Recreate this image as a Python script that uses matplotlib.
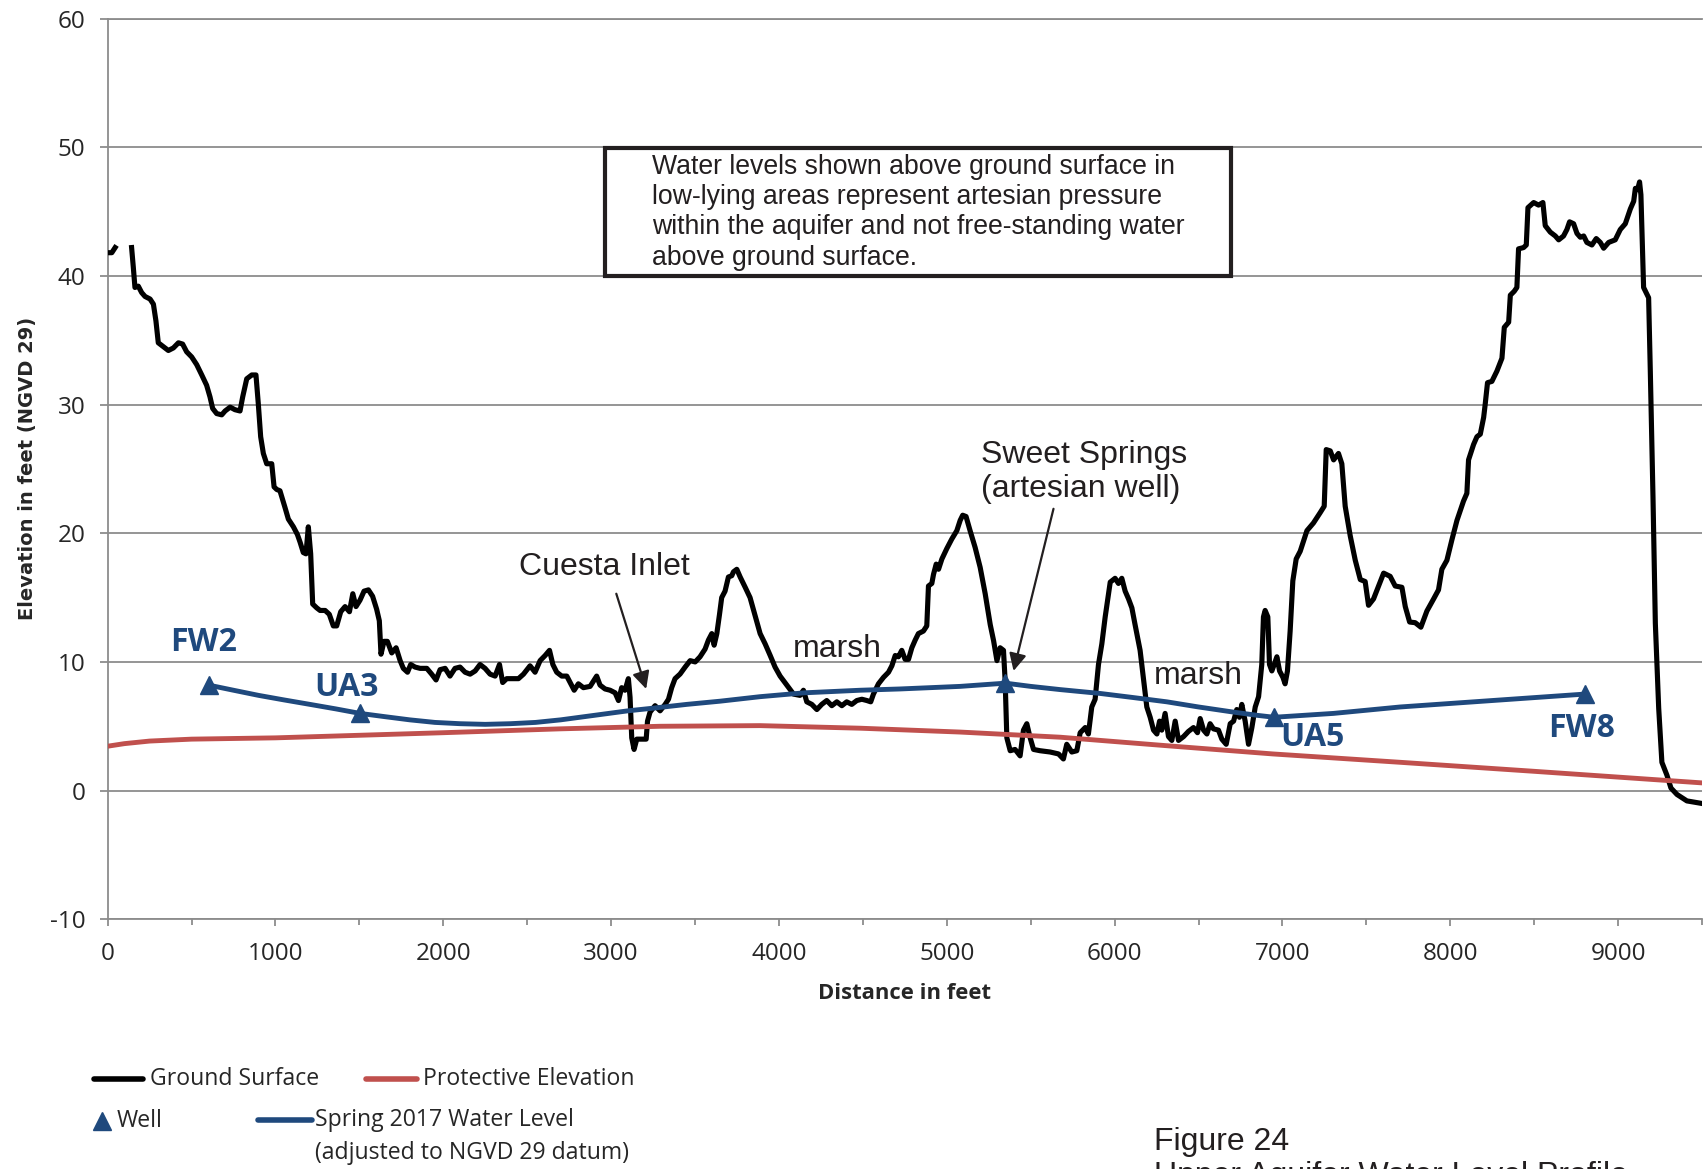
import numpy as np
import matplotlib
matplotlib.use('Agg')
import matplotlib.pyplot as plt
from matplotlib.patches import Rectangle
from matplotlib.lines import Line2D

plt.rcParams['font.family'] = ['Open Sans', 'DejaVu Sans']
plt.rcParams['axes.unicode_minus'] = False

# ground surface profile (feet along section, elevation ft NGVD 29); nan = gap in survey
ground_x = [5, 25, 45, 90,
            143, 153, 163, 183, 203, 223, 253, 273, 288, 302, 332, 362, 392, 422, 447, 471,
            501, 531, 561, 590, 610, 626, 650, 680, 700, 730, 759, 789, 805, 829, 859, 884,
            898, 912, 928, 948, 978, 992, 1008, 1027, 1057, 1077, 1107, 1131, 1147, 1166, 1182,
            1196, 1210, 1222, 1246, 1266, 1296, 1321, 1345, 1365, 1389, 1415, 1441, 1461, 1480,
            1504, 1528, 1554, 1579, 1603, 1619, 1629, 1647, 1667, 1693, 1719, 1743, 1762, 1787,
            1806, 1832, 1862, 1902, 1931, 1957, 1981, 2011, 2040, 2070, 2100, 2130, 2160, 2190,
            2219, 2249, 2279, 2309, 2335, 2354, 2378, 2418, 2448, 2478, 2517, 2547, 2577, 2607,
            2633, 2653, 2676, 2706, 2736, 2756, 2780, 2805, 2835, 2875, 2914, 2934, 2964, 2994,
            3024, 3044, 3063, 3083, 3103, 3113, 3123, 3137, 3153, 3183, 3209, 3217, 3232, 3262,
            3292, 3322, 3342, 3361, 3381, 3411, 3441, 3471, 3501, 3530, 3560, 3580, 3600, 3614,
            3630, 3646, 3659, 3679, 3699, 3719, 3729, 3749, 3769, 3799, 3828, 3858, 3888, 3918,
            3948, 3977, 4007, 4047, 4087, 4126, 4146, 4166, 4196, 4226, 4255, 4285, 4315, 4345,
            4375, 4404, 4434, 4464, 4494, 4524, 4547, 4563, 4593, 4623, 4653, 4673, 4693, 4712,
            4732, 4752, 4772, 4792, 4812, 4831, 4861, 4881, 4891, 4911, 4921, 4937, 4951, 4971,
            5000, 5030, 5060, 5080, 5095, 5115, 5139, 5169, 5199, 5229, 5259, 5279, 5299, 5318,
            5338, 5348, 5358, 5378, 5407, 5437, 5457, 5477, 5497, 5517, 5556, 5616, 5666, 5695,
            5715, 5745, 5775, 5795, 5825, 5844, 5864, 5884, 5904, 5924, 5944, 5974, 6003, 6023,
            6043, 6063, 6083, 6103, 6122, 6152, 6176, 6192, 6212, 6232, 6252, 6268, 6281, 6301,
            6321, 6341, 6361, 6381, 6411, 6440, 6470, 6494, 6510, 6530, 6550, 6569, 6589, 6619,
            6639, 6665, 6689, 6709, 6728, 6744, 6758, 6778, 6798, 6818, 6838, 6858, 6877, 6887,
            6897, 6913, 6923, 6937, 6951, 6967, 6983, 7003, 7016, 7030, 7046, 7062, 7082, 7106,
            7146, 7185, 7225, 7249, 7261, 7285, 7305, 7334, 7354, 7374, 7404, 7434, 7464, 7493,
            7513, 7543, 7573, 7603, 7642, 7672, 7712, 7732, 7758, 7791, 7825, 7861, 7901, 7930,
            7950, 7980, 8010, 8040, 8079, 8099, 8109, 8139, 8159, 8179, 8199, 8208, 8222, 8248,
            8278, 8308, 8322, 8348, 8358, 8381, 8397, 8407, 8437, 8453, 8463, 8497, 8526, 8552,
            8566, 8596, 8626, 8646, 8675, 8695, 8711, 8735, 8755, 8775, 8795, 8814, 8844, 8870,
            8894, 8914, 8944, 8983, 9013, 9043, 9073, 9093, 9103, 9116, 9128, 9136, 9152, 9182,
            9192, 9208, 9222, 9242, 9261, 9291, 9315, 9351, 9410, 9500]
ground_y = [41.8, 41.8, 42.2, np.nan,
            42.2, 40.7, 39.1, 39.2, 38.7, 38.4, 38.2, 37.8, 36.5, 34.8, 34.5, 34.2, 34.4, 34.8, 34.7, 34.1,
            33.7, 33.1, 32.3, 31.5, 30.6, 29.7, 29.3, 29.2, 29.5, 29.8, 29.6, 29.5, 30.6, 32.0, 32.3, 32.3,
            30.05, 27.5, 26.2, 25.4, 25.4, 23.6, 23.4, 23.3, 22.0, 21.1, 20.5, 19.9, 19.3, 18.5, 18.4,
            20.5, 18.4, 14.5, 14.2, 14.0, 14.0, 13.7, 12.8, 12.8, 13.9, 14.3, 13.9, 15.3, 14.3,
            14.8, 15.5, 15.6, 15.1, 14.1, 13.2, 10.6, 11.6, 11.6, 10.7, 11.1, 10.1, 9.5, 9.2,
            9.8, 9.6, 9.5, 9.5, 9.05, 8.6, 9.4, 9.5, 8.9, 9.5, 9.6, 9.2, 9.05, 9.3,
            9.8, 9.5, 9.05, 8.9, 9.8, 8.4, 8.7, 8.7, 8.7, 9.05, 9.7, 9.2, 10.1, 10.5,
            10.9, 9.8, 9.2, 8.9, 8.9, 8.4, 7.8, 8.3, 8.0, 8.1, 8.9, 8.2, 7.9, 7.8,
            7.6, 7.0, 8.0, 7.8, 8.7, 7.25, 4.1, 3.2, 4.0, 4.0, 4.0, 5.4, 6.1, 6.6,
            6.2, 6.7, 7.1, 8.0, 8.7, 9.06, 9.6, 10.1, 10.0, 10.4, 11.0, 11.7, 12.2, 11.3,
            12.2, 13.7, 15.0, 15.5, 16.6, 16.7, 17.0, 17.2, 16.6, 15.8, 15.0, 13.6, 12.2, 11.4,
            10.5, 9.6, 8.9, 8.2, 7.5, 7.4, 7.8, 6.9, 6.7, 6.3, 6.7, 7.0, 6.6, 6.9,
            6.6, 6.9, 6.7, 7.0, 7.1, 7.0, 6.9, 7.5, 8.3, 8.8, 9.2, 9.7, 10.5, 10.4,
            10.9, 10.2, 10.2, 11.1, 11.7, 12.2, 12.4, 12.8, 15.9, 16.1, 16.8, 17.6, 17.2, 18.0,
            18.8, 19.55, 20.2, 21.0, 21.4, 21.3, 20.2, 18.9, 17.35, 15.3, 12.9, 11.65, 10.1, 11.1,
            10.9, 8.5, 4.1, 3.1, 3.2, 2.7, 4.7, 5.2, 4.1, 3.2, 3.1, 3.0, 2.85, 2.46,
            3.6, 3.0, 3.1, 4.5, 4.9, 4.4, 6.5, 7.1, 9.8, 11.4, 13.5, 16.2, 16.5, 16.1,
            16.5, 15.5, 14.9, 14.2, 12.9, 10.9, 8.3, 6.5, 5.7, 4.7, 4.4, 5.4, 4.7, 6.0,
            4.2, 3.9, 5.4, 3.9, 4.2, 4.6, 4.9, 4.5, 5.6, 4.7, 4.4, 5.2, 4.8, 4.7,
            4.0, 3.6, 5.2, 5.4, 6.3, 5.7, 6.7, 5.4, 3.6, 4.9, 6.5, 7.3, 9.8, 13.5,
            14.0, 13.5, 9.8, 9.3, 9.8, 10.4, 9.3, 8.8, 8.3, 9.3, 12.4, 16.3, 18.0, 18.6,
            20.2, 20.8, 21.6, 22.1, 26.5, 26.4, 25.7, 26.2, 25.4, 22.1, 19.8, 17.9, 16.4, 16.25,
            14.4, 14.9, 15.9, 16.9, 16.65, 15.9, 15.8, 14.3, 13.1, 13.05, 12.7, 13.96, 14.9, 15.6,
            17.2, 17.9, 19.5, 21.0, 22.5, 23.1, 25.7, 26.9, 27.5, 27.7, 29.0, 30.0, 31.7, 31.8,
            32.6, 33.6, 36.0, 36.4, 38.5, 38.8, 39.1, 42.1, 42.2, 42.4, 45.3, 45.7, 45.5, 45.7,
            43.9, 43.4, 43.1, 42.8, 43.1, 43.6, 44.2, 44.05, 43.3, 43.0, 43.1, 42.6, 42.4, 42.9,
            42.6, 42.15, 42.6, 42.8, 43.6, 44.05, 45.2, 45.8, 46.8, 46.7, 47.3, 46.3, 39.1, 38.3,
            32.6, 22.8, 13.0, 6.4, 2.2, 1.2, 0.2, -0.3, -0.8, -1.0]

# protective elevation
prot_x = [0, 100, 250, 500, 1000, 1500, 2000, 2696, 3292, 3888, 4484, 5080, 5676, 6300, 6943, 7702, 8500, 9500]
prot_y = [3.45, 3.65, 3.85, 4.0, 4.1, 4.3, 4.5, 4.8, 5.0, 5.05, 4.85, 4.55, 4.15, 3.5, 2.85, 2.2, 1.5, 0.6]

# spring 2017 water level
wl_x = [602, 750, 900, 1050, 1206, 1360, 1504, 1650, 1800, 1950, 2100, 2250, 2400, 2550,
        2700, 2900, 3100, 3245, 3450, 3650, 3888, 4152, 4484, 4722, 5080, 5350,
        5500, 5676, 5914, 6100, 6311, 6500, 6709, 6850, 6950, 7304, 7702, 8250, 8800]
wl_y = [8.2, 7.8, 7.4, 7.05, 6.7, 6.35, 6.0, 5.75, 5.5, 5.3, 5.2, 5.15, 5.2, 5.3,
        5.5, 5.85, 6.2, 6.4, 6.7, 6.95, 7.3, 7.6, 7.8, 7.9, 8.1, 8.35,
        8.1, 7.85, 7.55, 7.25, 6.9, 6.5, 6.1, 5.85, 5.7, 6.0, 6.5, 7.0, 7.5]

# wells
well_names = ['FW2', 'UA3', '', 'UA5', 'FW8']
well_x = [602, 1504, 5350, 6950, 8800]
well_y = [8.2, 6.0, 8.35, 5.7, 7.5]
well_label_x = [574, 1425, None, 7181, 8783]
well_label_y = [11.5, 8.0, None, 4.1, 4.8]

x_ticks = [0, 1000, 2000, 3000, 4000, 5000, 6000, 7000, 8000, 9000]
y_ticks = [-10, 0, 10, 20, 30, 40, 50, 60]

BLUE = '#1f497d'
RED = '#c0504d'
GRID = '#8c8c8c'
INK = '#231f20'

W, H = 1704, 1169
fig = plt.figure(figsize=(W / 100, H / 100), dpi=100)
ax = fig.add_axes([107.6 / W, 1 - 919.3 / H, (1702 - 107.6) / W, (919.3 - 18.5) / H])

ax.plot(ground_x, ground_y, color='black', lw=3.7, solid_joinstyle='round', zorder=3)
ax.plot(prot_x, prot_y, color=RED, lw=3.5, zorder=4)
ax.plot(wl_x, wl_y, color=BLUE, lw=3.5, solid_joinstyle='round', zorder=5)
ax.plot(well_x, well_y, ls='none', marker='^', ms=13, color=BLUE, zorder=6)

for name, lx, ly in zip(well_names, well_label_x, well_label_y):
    if name:
        ax.text(lx, ly, name, color=BLUE, fontsize=23, fontweight='bold',
                ha='center', va='center', zorder=7)

# annotations
txt = dict(fontsize=23, color=INK, family=['Liberation Sans', 'DejaVu Sans'])
ax.text(2960, 17.4, 'Cuesta Inlet', ha='center', va='center', **txt)
ax.text(4347, 11.0, 'marsh', ha='center', va='center', **txt)
ax.text(6500, 8.9, 'marsh', ha='center', va='center', **txt)
ax.text(5207, 24.75, 'Sweet Springs\n(artesian well)', ha='left', va='center',
        linespacing=1.17, **txt)
arrow = dict(arrowstyle='-|>', lw=1.6, color=INK, mutation_scale=26, shrinkA=0, shrinkB=0)
ax.annotate('', xy=(3209, 7.9), xytext=(3031, 15.3), arrowprops=arrow, zorder=8)
ax.annotate('', xy=(5398, 9.3), xytext=(5636, 21.9), arrowprops=arrow, zorder=8)

# note box
ax.add_patch(Rectangle((2966, 40.0), 6696 - 2966, 49.9 - 40.0, facecolor='white',
                       edgecolor=INK, lw=3.0, zorder=6))
ax.text(3246, 44.95, 'Water levels shown above ground surface in\n'
        'low-lying areas represent artesian pressure\n'
        'within the aquifer and not free-standing water\n'
        'above ground surface.', ha='left', va='center', fontsize=19.2, color=INK,
        linespacing=1.22, family=['Liberation Sans', 'DejaVu Sans'], zorder=7)

ax.set_xlim(0, 9500)
ax.set_ylim(-10, 60)
ax.set_xticks(x_ticks)
ax.set_xticks(np.arange(500, 9600, 1000), minor=True)
ax.set_yticks(y_ticks)
ax.grid(True, axis='y', color=GRID, lw=1.3)
ax.set_axisbelow(True)
ax.spines['right'].set_visible(False)
for s in ['left', 'bottom', 'top']:
    ax.spines[s].set_color(GRID)
    ax.spines[s].set_linewidth(1.3)
ax.tick_params(axis='both', which='both', color=GRID, width=1.3, labelsize=17.5,
               labelcolor='#262626')
ax.tick_params(axis='x', which='major', length=5, pad=11)
ax.tick_params(axis='x', which='minor', length=4)
ax.tick_params(axis='y', length=6, pad=10)

ax.set_xlabel('Distance in feet', fontsize=15.8, fontweight='bold', color='#262626')
ax.xaxis.set_label_coords(0.4995, -0.071)
ax.set_ylabel('Elevation in feet (NGVD 29)', fontsize=14, fontweight='bold',
              color='#262626', family=['DejaVu Sans'])
ax.yaxis.set_label_coords(-0.044, 0.501)

# legend, drawn below the chart
lax = fig.add_axes([0, 0, 1, 1])
lax.set_xlim(0, W)
lax.set_ylim(H, 0)
lax.axis('off')
lax.patch.set_alpha(0)
leg_txt = dict(fontsize=16.6, color='#262626', va='center', ha='left')
lax.add_line(Line2D([94, 143], [1079, 1079], color='black', lw=4, solid_capstyle='round'))
lax.text(150, 1079, 'Ground Surface', **leg_txt)
lax.add_line(Line2D([366, 417], [1079, 1079], color=RED, lw=4, solid_capstyle='round'))
lax.text(423, 1079, 'Protective Elevation', **leg_txt)
lax.add_line(Line2D([102], [1121], ls='none', marker='^', ms=13, color=BLUE))
lax.text(117, 1121, 'Well', **leg_txt)
lax.add_line(Line2D([258, 312], [1120, 1120], color=BLUE, lw=4, solid_capstyle='round'))
lax.text(315, 1120, 'Spring 2017 Water Level', **leg_txt)
lax.text(315, 1153, '(adjusted to NGVD 29 datum)', **leg_txt)

fig.text(1154 / W, 1 - 1150 / H, 'Figure 24', fontsize=23, color=INK, va='baseline',
         family=['Liberation Sans', 'DejaVu Sans'])
fig.text(1154 / W, 1 - 1161 / H, 'Upper Aquifer Water Level Profile', fontsize=23, color=INK,
         va='top', family=['Liberation Sans', 'DejaVu Sans'])

fig.savefig('out.png', dpi=100)
